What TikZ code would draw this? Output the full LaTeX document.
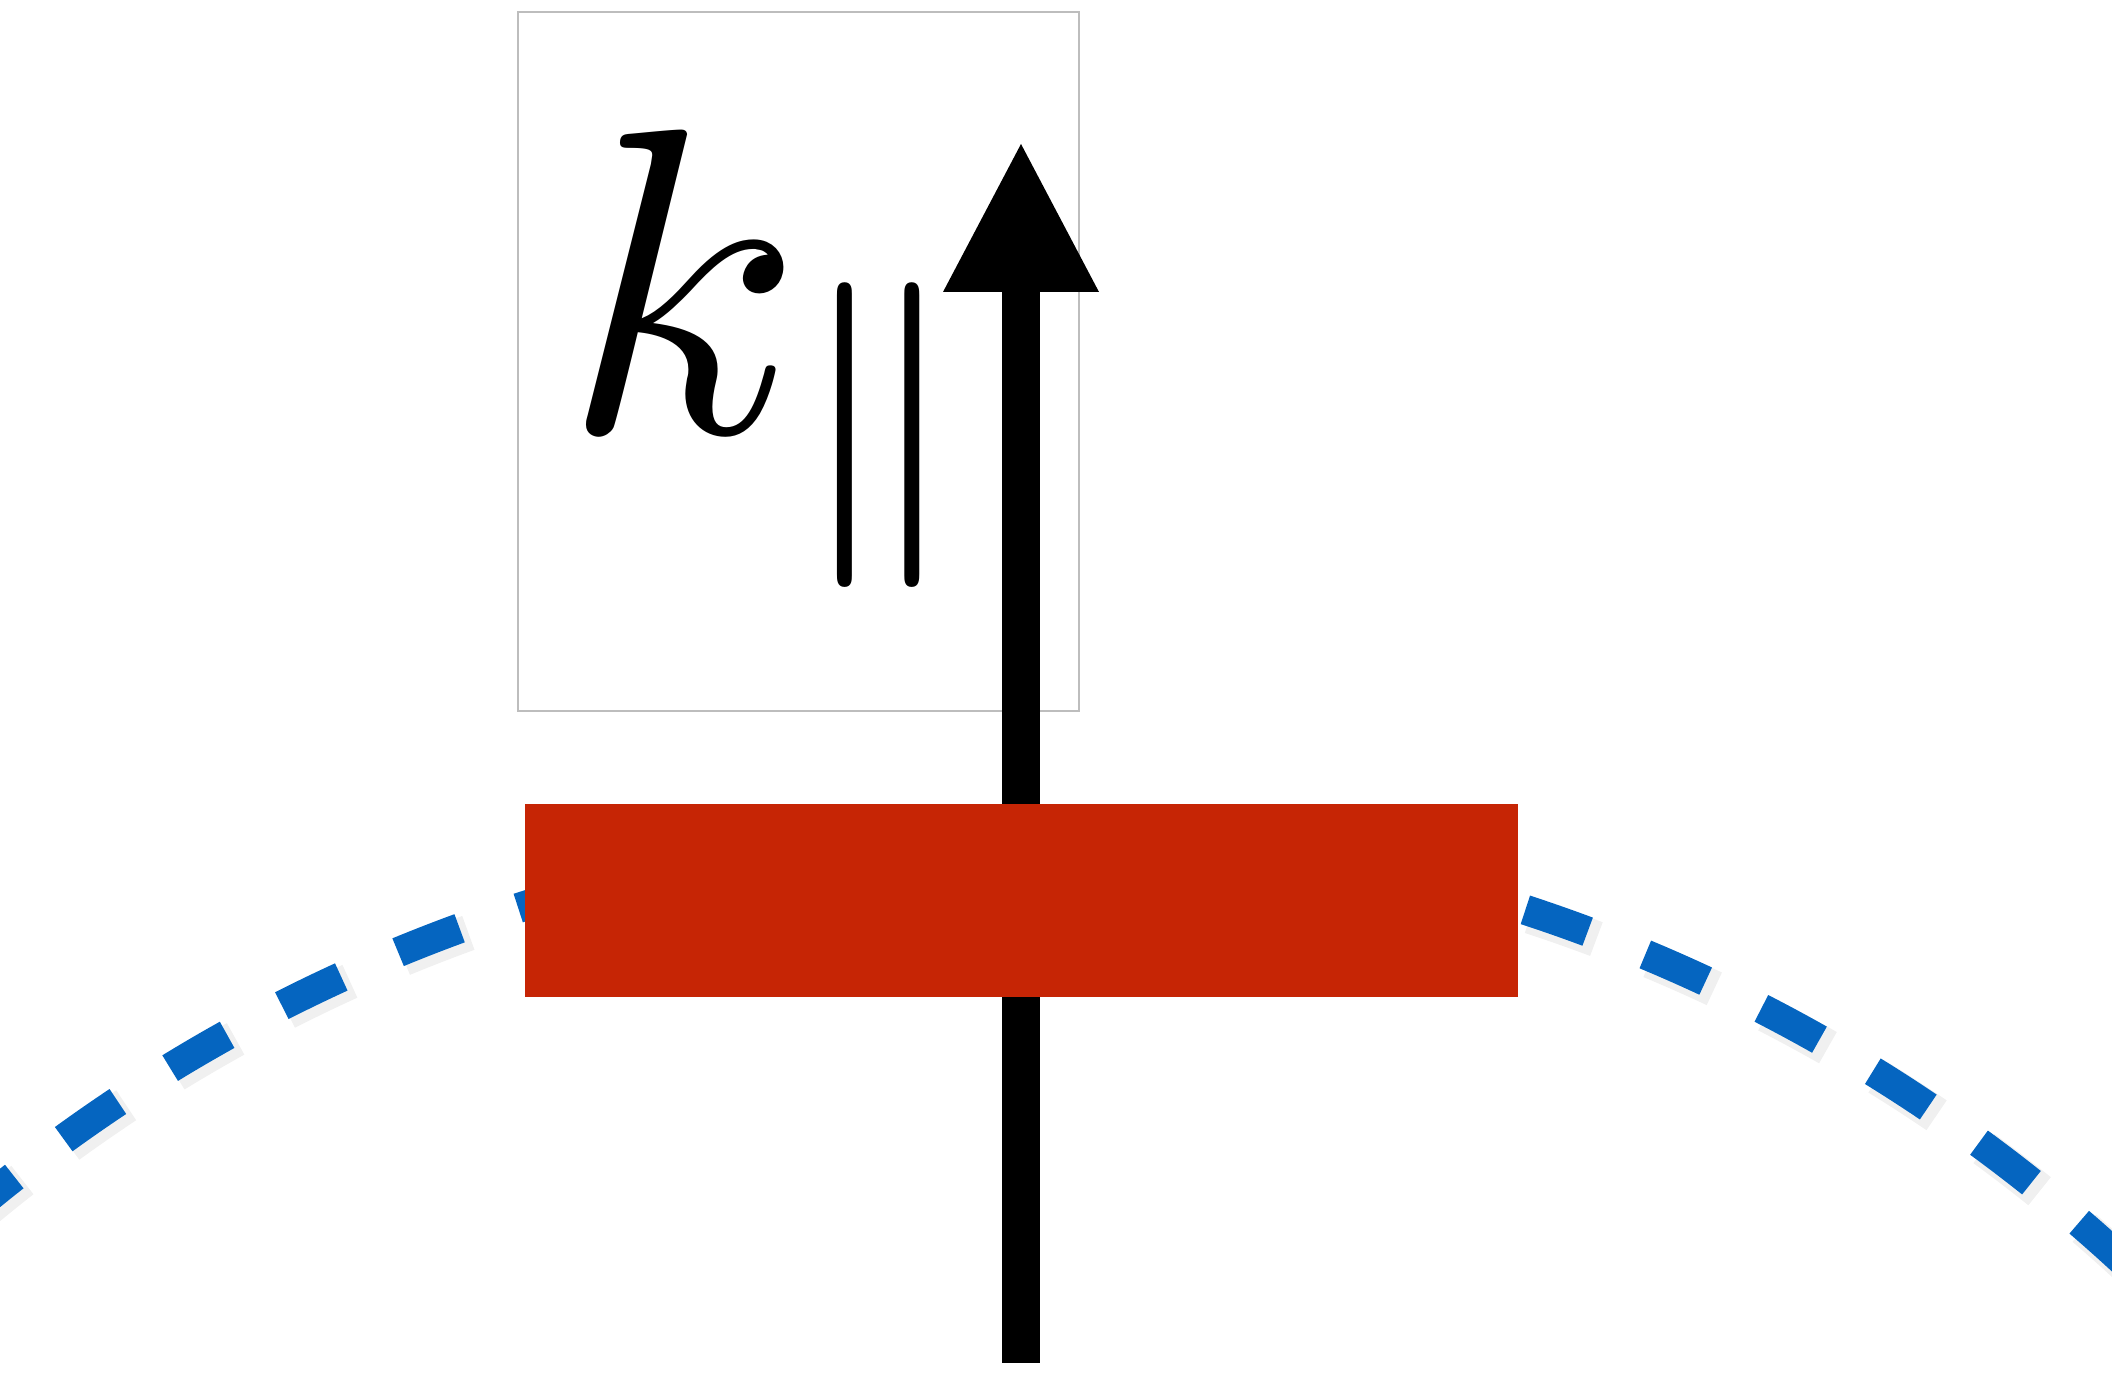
\documentclass[tikz,border=0pt]{standalone}
\usetikzlibrary{arrows.meta}
\definecolor{slabred}{HTML}{C62505}
\definecolor{waveblue}{HTML}{0565C0}
\definecolor{framegray}{HTML}{BDBDBD}

\begin{document}
\begin{tikzpicture}[
    labelbox/.style={rectangle, draw=framegray, line width=0.6pt, minimum width=5.61cm, minimum height=6.99cm, inner sep=0pt},
    slab/.style={rectangle, fill=slabred, minimum width=9.93cm, minimum height=1.93cm, inner sep=0pt},
    wave/.style={waveblue, line width=0.3cm, dash pattern=on 0.66cm off 0.62cm},
    waveshadow/.style={black, opacity=0.06, line width=0.36cm, dash pattern=on 0.7cm off 0.58cm},
    arr/.style={-{Triangle[length=1.48cm, width=1.56cm, line width=0pt]}, line width=0.38cm, color=black}
]
    \clip (0,0) rectangle (21.12,13.88);

    % Label frame and k parallel
    \node[labelbox] (frame) at (7.985,10.265) {};
    \node[anchor=base west, inner sep=0pt, scale=12.4] (klabel) at (5.54,9.55) {$k_{\parallel}$};

    % Axis arrow
    \coordinate (axisbot) at (10.21,0.25);
    \coordinate (axistop) at (10.21,12.44);
    \draw[arr] (axisbot) -- (axistop);

    % Dashed wave front (with soft shadow)
    \draw[waveshadow] (10.22,-10.73) ++(135:16.26) ++(0.02cm,0) arc[start angle=135, end angle=40, radius=16.26];
    \draw[wave] (10.19,-10.67) ++(135:16.26) arc[start angle=135, end angle=40, radius=16.26];

    % Slab
    \node[slab] (slab) at (10.215,4.875) {};
\end{tikzpicture}
\end{document}
